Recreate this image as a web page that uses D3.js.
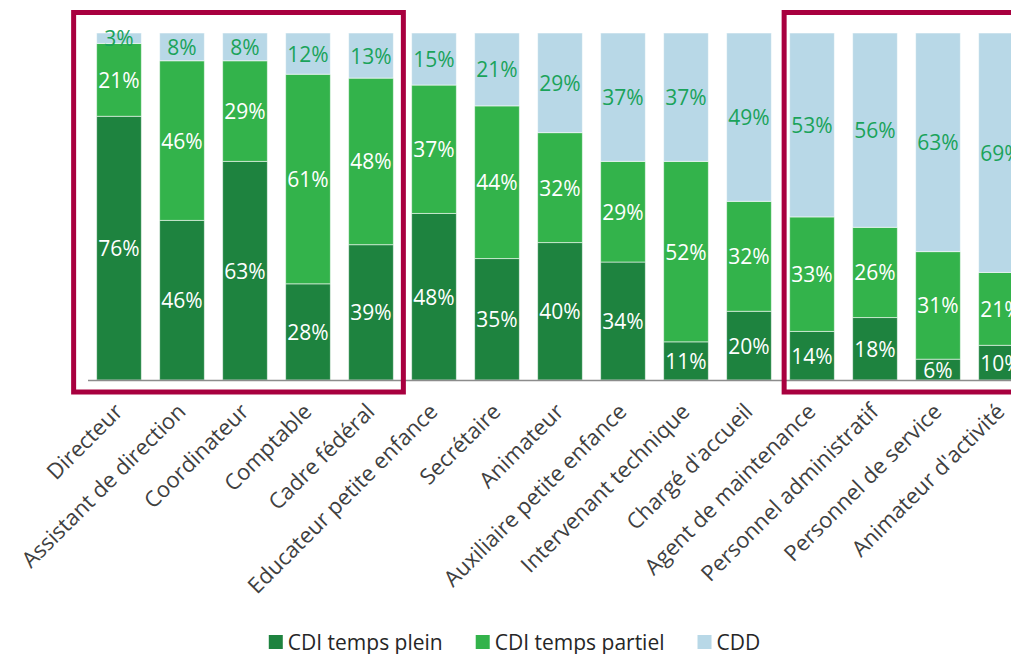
<!DOCTYPE html>
<html>
<head>
<meta charset="utf-8">
<script src="https://cdn.jsdelivr.net/npm/d3@7"></script>
<style>
  html, body { margin: 0; padding: 0; background: #ffffff; }
  svg { display: block; font-family: "Open Sans", "Noto Sans", sans-serif; }
</style>
</head>
<body>
<svg id="chart" width="1011" height="654"></svg>
<script>
// Postes et répartition des contrats (%)
const categories = [
  "Directeur", "Assistant de direction", "Coordinateur", "Comptable", "Cadre fédéral",
  "Educateur petite enfance", "Secrétaire", "Animateur", "Auxiliaire petite enfance",
  "Intervenant technique", "Chargé d'accueil", "Agent de maintenance",
  "Personnel administratif", "Personnel de service", "Animateur d'activité"
];
const cdiTempsPlein   = [76, 46, 63, 28, 39, 48, 35, 40, 34, 11, 20, 14, 18, 6, 10];
const cdiTempsPartiel = [21, 46, 29, 61, 48, 37, 44, 32, 29, 52, 32, 33, 26, 31, 21];
const cdd             = [3, 8, 8, 12, 13, 15, 21, 29, 37, 37, 49, 53, 56, 63, 69];

const seriesNames = ["CDI temps plein", "CDI temps partiel", "CDD"];
const seriesColors = ["#1e833f", "#33b34b", "#b8d8e7"];
const labelColors = ["#ffffff", "#ffffff", "#1aa35a"];

// Groupes de postes encadrés
const highlightGroups = [
  ["Directeur", "Cadre fédéral"],
  ["Agent de maintenance", "Animateur d'activité"]
];

const rows = categories.map((c, i) => ({
  poste: c,
  "CDI temps plein": cdiTempsPlein[i],
  "CDI temps partiel": cdiTempsPartiel[i],
  "CDD": cdd[i]
}));

const svg = d3.select("#chart");
const baseY = 380, topY = 33;

const x = d3.scaleBand()
  .domain(categories)
  .range([87.5, 87.5 + 63 * categories.length])
  .paddingInner(0.29)
  .paddingOuter(0.145);

const y = d3.scaleLinear().domain([0, 1]).range([baseY, topY]);

const stacked = d3.stack()
  .keys(seriesNames)
  .offset(d3.stackOffsetExpand)(rows);

// Barres empilées
const layers = svg.append("g").selectAll("g")
  .data(stacked)
  .join("g")
  .attr("fill", (d, i) => seriesColors[i]);

layers.selectAll("rect")
  .data(d => d)
  .join("rect")
  .attr("x", d => x(d.data.poste))
  .attr("width", x.bandwidth())
  .attr("y", d => y(d[1]))
  .attr("height", d => y(d[0]) - y(d[1]))
  .attr("stroke", "#ffffff")
  .attr("stroke-opacity", 0.55)
  .attr("stroke-width", 1);

// Étiquettes de valeurs
stacked.forEach((layer, si) => {
  svg.append("g").selectAll("text")
    .data(layer)
    .join("text")
    .attr("x", d => x(d.data.poste) + x.bandwidth() / 2)
    .attr("y", d => (y(d[0]) + y(d[1])) / 2)
    .attr("text-anchor", "middle")
    .attr("dominant-baseline", "central")
    .attr("fill", labelColors[si])
    .style("font-size", "21px")
    .text(d => d.data[layer.key] + "%");
});

// Axe horizontal
const axis = svg.append("g")
  .attr("transform", `translate(0,${baseY})`)
  .call(d3.axisBottom(x).tickSize(0).tickSizeOuter(0));
axis.select(".domain").attr("stroke", "#8c8c8c").attr("stroke-width", 1.5);
axis.selectAll(".tick text")
  .attr("fill", "#404040")
  .style("font-size", "22px")
  .style("font-family", "'Open Sans', 'Noto Sans', sans-serif")
  .attr("text-anchor", "end")
  .attr("dy", null)
  .attr("y", 0)
  .attr("transform", "translate(5,33) rotate(-45)");

// Cadres de mise en évidence
highlightGroups.forEach(([a, b], gi) => {
  const left = gi === 0 ? x(a) - 23 : x(a) - 5.5;
  const right = x(b) + x.bandwidth() + 10;
  svg.append("rect")
    .attr("x", left)
    .attr("y", 12.5)
    .attr("width", right - left)
    .attr("height", 379.5)
    .attr("fill", "none")
    .attr("stroke", "#a8003f")
    .attr("stroke-width", 5);
});

// Légende
const legend = svg.append("g").attr("transform", "translate(0,642)");
const items = legend.selectAll("g")
  .data(seriesNames)
  .join("g");
items.append("rect")
  .attr("x", 0).attr("y", -7)
  .attr("width", 14).attr("height", 14)
  .attr("fill", (d, i) => seriesColors[i]);
items.append("text")
  .attr("x", 19).attr("y", 0)
  .attr("dominant-baseline", "central")
  .attr("fill", "#262626")
  .style("font-size", "21px")
  .text(d => d);
let cursor = 0;
const offsets = [];
items.each(function () {
  offsets.push(cursor);
  const w = 19 + this.querySelector("text").getComputedTextLength();
  cursor += w + 33;
});
const total = cursor - 33;
const start = 514.5 - total / 2;
items.attr("transform", (d, i) => `translate(${start + offsets[i]},0)`);
</script>
</body>
</html>
